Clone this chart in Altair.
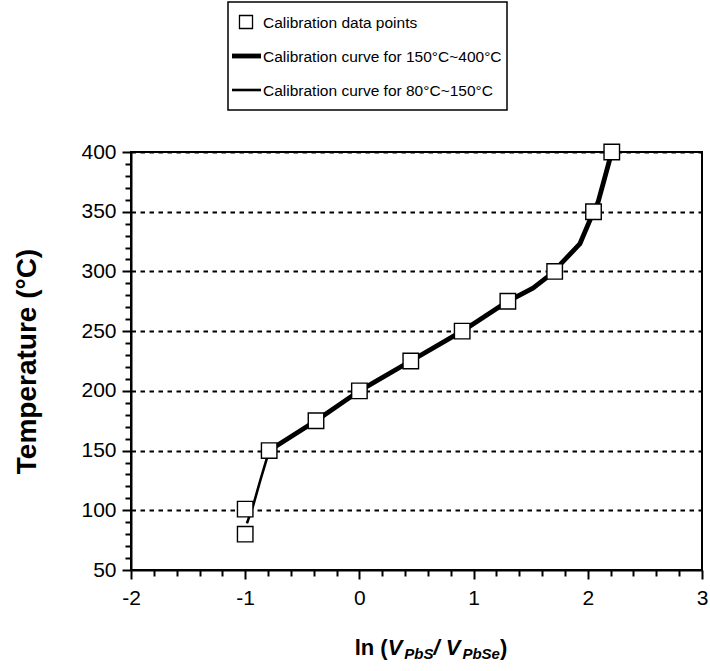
import altair as alt
import pandas as pd

# ---------------- data ----------------
series = ["Calibration data points",
          "Calibration curve for 150°C~400°C",
          "Calibration curve for 80°C~150°C"]

# calibration data points
pt_x = [-1.00, -1.00, -0.79, -0.38, 0.00, 0.45, 0.90, 1.30, 1.71, 2.05, 2.21]
pt_t = [80, 101, 150, 175, 200, 225, 250, 275, 300, 350, 400]

# thick calibration curve 150..400 C
hi_x = [-0.79, -0.38, 0.00, 0.45, 0.90, 1.30, 1.52, 1.71, 1.77, 1.93, 2.05, 2.09, 2.21]
hi_t = [150, 175, 200, 225, 250, 275, 286, 300, 307, 323, 350, 358, 400]

# thin calibration curve 80..150 C
lo_x = [-0.985, -0.93, -0.865, -0.79]
lo_t = [89, 104, 126, 150]

x_ticks = [round(-2 + 0.2 * i, 1) for i in range(26)]
y_ticks = list(range(50, 401, 10))

# ---------------- tables ----------------
pts = pd.DataFrame({"x": pt_x, "t": pt_t, "series": series[0]})
curves = pd.concat([
    pd.DataFrame({"x": hi_x, "t": hi_t, "series": series[1], "i": range(len(hi_x))}),
    pd.DataFrame({"x": lo_x, "t": lo_t, "series": series[2], "i": range(len(lo_x))}),
])
leg = pd.DataFrame({"series": series})

FONT = "Liberation Sans"
W, H = 571, 418

xscale = alt.Scale(domain=[-2, 3], nice=False, zero=False)
yscale = alt.Scale(domain=[50, 400], nice=False, zero=False)
sw_scale = alt.Scale(type="ordinal", domain=series, range=[1.4, 4.8, 2.6])

x_axis = alt.Axis(
    values=x_ticks,
    labelExpr="abs(datum.value - round(datum.value)) < 1e-6 ? '' + round(datum.value) : ''",
    tickSize={"condition": {"test": "abs(datum.value - round(datum.value)) < 1e-6", "value": 9}, "value": 6},
    grid=False, title=None, labelPadding=8, labelFlush=False, labelOverlap=False,
)
y_axis = alt.Axis(
    values=y_ticks,
    labelExpr="datum.value % 50 === 0 ? datum.label : ''",
    tickSize={"condition": {"test": "datum.value % 50 === 0", "value": 9}, "value": 6},
    grid=True,
    gridOpacity={"condition": {"test": "datum.value % 50 === 0 && datum.value > 50", "value": 1}, "value": 0},
    gridDash=[4.5, 4.5], gridWidth=2, gridColor="black",
    title="Temperature (°C)", titleX=-90, titleY=H / 2, titleFontSize=28,
    titleFontWeight="bold", labelPadding=6, labelFlush=False, labelOverlap=False,
)

lines = alt.Chart(curves).mark_line(color="black", strokeCap="butt", strokeJoin="round").encode(
    x=alt.X("x:Q", scale=xscale, axis=x_axis),
    y=alt.Y("t:Q", scale=yscale, axis=y_axis),
    strokeWidth=alt.StrokeWidth("series:N", scale=sw_scale, legend=None),
    detail="series:N",
    order="i:Q",
)

points = alt.Chart(pts).mark_point(
    shape="square", size=240, filled=True, fill="white", stroke="black", strokeWidth=1.4, opacity=1
).encode(
    x=alt.X("x:Q", scale=xscale, axis=x_axis),
    y=alt.Y("t:Q", scale=yscale, axis=y_axis),
)

plot = alt.layer(lines, points)

# ---------------- legend (box, symbols, labels) ----------------
LEG_FS = 15.5
leg_y = alt.Y("series:N", scale=alt.Scale(type="point", domain=series, range=[-130, -62], padding=0), axis=None)
leg_box = alt.Chart(leg.head(1)).mark_rect(fill="white", stroke="black", strokeWidth=1.5).encode(
    x=alt.value(97), x2=alt.value(376),
    y=alt.value(-150), y2=alt.value(-42),
)
leg_sq = alt.Chart(leg).transform_filter(alt.datum.series == series[0]).mark_point(
    shape="square", size=170, filled=True, fill="white", stroke="black", strokeWidth=1.3, opacity=1
).encode(x=alt.value(115), y=leg_y)
leg_ln = alt.Chart(leg).transform_filter(alt.datum.series != series[0]).mark_rule(
    color="black", strokeCap="butt"
).encode(
    x=alt.value(101), x2=alt.value(130), y=leg_y,
    strokeWidth=alt.StrokeWidth("series:N", scale=sw_scale, legend=None),
)
leg_txt = alt.Chart(leg).mark_text(
    font=FONT, fontSize=LEG_FS, align="left", baseline="middle", color="black", dy=1
).encode(x=alt.value(132), y=leg_y, text="series:N")
legend_layer = alt.layer(leg_box, leg_sq, leg_ln, leg_txt)

# ---- x-axis title "ln (V_PbS / V_PbSe)" with italic V and subscripts ----
MAIN, SUB = 22, 15
pieces = [("ln (", MAIN, "normal", 0, 1.5), ("V", MAIN, "italic", 0, 0.667 + 0.09),
          ("PbS", SUB, "italic", 4, 1.945), (" /", MAIN, "italic", 0, 0.556),
          ("V", MAIN, "italic", 0, 0.667 + 0.09), ("PbSe", SUB, "italic", 4, 2.501),
          (" )", MAIN, "normal", 0, 0.611)]
total = sum(p[1] * p[4] for p in pieces)
cx = 303
x0 = cx - total / 2
title_layers = []
for txt, fs, style, shift, em in pieces:
    title_layers.append(
        alt.Chart(leg.head(1)).mark_text(
            text=txt, font=FONT, fontSize=fs, fontWeight="bold", fontStyle=style,
            align="left", baseline="alphabetic", color="black",
        ).encode(x=alt.value(x0), y=alt.value(H + 85 + shift))
    )
    x0 += fs * em

chart = alt.layer(plot, legend_layer, *title_layers).resolve_scale(
    y="independent"
).properties(
    width=W, height=H,
    autosize=alt.AutoSizeParams(type="none"),
    padding={"left": 131, "top": 152, "right": 8, "bottom": 101},
).configure_view(
    stroke="black", strokeWidth=2
).configure_axis(
    domainColor="black", domainWidth=2, tickColor="black", tickWidth=2,
    labelFont=FONT, labelFontSize=21, labelColor="black",
    titleFont=FONT, titleColor="black",
)

chart.save("out.html", embed_options={"renderer": "svg", "actions": False})
